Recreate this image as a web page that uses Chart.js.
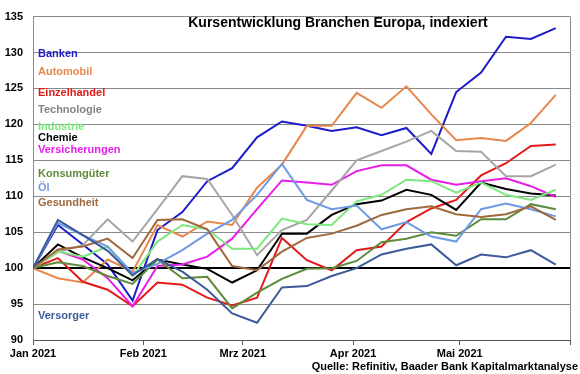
<!DOCTYPE html>
<html>
<head>
<meta charset="utf-8">
<script src="https://cdn.jsdelivr.net/npm/chart.js@4.4.1/dist/chart.umd.min.js"></script>
<style>
	html, body { margin: 0; padding: 0; background: #fff; }
	#wrap { width: 580px; height: 374px; }
</style>
</head>
<body>
<div id="wrap"><canvas id="kurse" width="580" height="374"></canvas></div>
<script>
// weekly closes (Fridays), indexed to 100 on 1 Jan 2021
const dates = [
	"2021-01-01", "2021-01-08", "2021-01-15", "2021-01-22", "2021-01-29",
	"2021-02-05", "2021-02-12", "2021-02-19", "2021-02-26",
	"2021-03-05", "2021-03-12", "2021-03-19", "2021-03-26",
	"2021-04-02", "2021-04-09", "2021-04-16", "2021-04-23", "2021-04-30",
	"2021-05-07", "2021-05-14", "2021-05-21", "2021-05-28"
];

const banken = [100, 106.0, 103.3, 100.5, 95.5, 105.3, 107.8, 112.1, 113.9, 118.2, 120.4, 119.8, 119.1, 119.6, 118.5, 119.5, 115.9, 124.5, 127.2, 132.2, 131.9, 133.4];
const automobil = [100, 98.6, 98.0, 101.2, 99.5, 106.0, 104.4, 106.5, 106.0, 111.2, 114.4, 119.8, 119.8, 124.4, 122.3, 125.3, 121.4, 117.8, 118.1, 117.7, 120.2, 124.1];
const einzelhandel = [100, 101.4, 98.1, 97.0, 94.7, 98.0, 97.7, 95.9, 94.8, 95.9, 104.2, 101.1, 99.7, 102.5, 103.0, 106.4, 108.3, 109.5, 112.9, 114.6, 117.0, 117.2];
const technologie = [100, 102.2, 103.2, 106.8, 103.7, 108.2, 112.8, 112.4, 107.4, 101.8, 105.3, 106.7, 110.8, 115.0, 116.3, 117.6, 119.1, 116.3, 116.2, 112.8, 112.8, 114.4];
const industrie = [100, 102.3, 101.6, 103.0, 98.9, 103.7, 106.0, 105.4, 102.7, 102.7, 106.9, 106.1, 106.0, 109.3, 110.2, 112.3, 112.1, 110.5, 111.9, 110.2, 109.5, 110.9];
const chemie = [100, 103.3, 101.5, 100.0, 98.3, 101.2, 100.5, 99.9, 98.0, 99.7, 104.8, 104.8, 107.4, 108.9, 109.4, 110.9, 110.2, 108.1, 111.9, 111.0, 110.4, 110.1];
const versicherungen = [100, 102.4, 101.2, 98.6, 94.7, 100.3, 100.5, 101.6, 104.1, 108.2, 112.2, 111.9, 111.6, 113.5, 114.3, 114.3, 112.3, 111.6, 112.1, 112.5, 111.4, 109.9];
const konsumgueter = [100, 100.8, 100.3, 98.9, 97.8, 101.2, 98.6, 98.8, 94.4, 96.6, 98.5, 99.9, 100.0, 101.0, 103.6, 104.1, 105.0, 104.5, 106.8, 106.8, 108.9, 108.2];
const oel = [100, 106.3, 104.6, 103.0, 99.3, 100.6, 102.5, 104.8, 106.7, 110.2, 114.5, 109.5, 108.2, 108.7, 105.4, 106.4, 104.4, 103.7, 108.2, 109.0, 108.2, 107.2];
const gesundheit = [100, 102.6, 103.0, 104.1, 101.4, 106.7, 106.8, 105.4, 100.3, 99.7, 102.3, 104.2, 104.8, 105.9, 107.4, 108.2, 108.6, 107.5, 107.1, 107.5, 108.6, 106.7];
const versorger = [100, 106.7, 104.6, 102.4, 99.0, 101.3, 99.5, 97.0, 93.7, 92.4, 97.3, 97.5, 98.9, 100.0, 101.9, 102.7, 103.3, 100.4, 101.9, 101.5, 102.5, 100.5];

// month starts on the time axis and their labels
const monthStarts = ["2021-01-01", "2021-02-01", "2021-03-01", "2021-04-01", "2021-05-01", "2021-06-01"];
const monthLabels = ["Jan 2021", "Feb 2021", "Mrz 2021", "Apr 2021", "Mai 2021", ""];

const yTicks = [90, 95, 100, 105, 110, 115, 120, 125, 130, 135];

const series = [
	{ name: "Versorger", data: versorger, color: "#3d5a99", text: "#3d5a99" },
	{ name: "Gesundheit", data: gesundheit, color: "#a0693c", text: "#a0693c" },
	{ name: "Öl", data: oel, color: "#6f9ae6", text: "#6f9ae6" },
	{ name: "Konsumgüter", data: konsumgueter, color: "#5f8a3c", text: "#5f8a3c" },
	{ name: "Industrie", data: industrie, color: "#7ee87e", text: "#7ee87e" },
	{ name: "Technologie", data: technologie, color: "#a6a6a6", text: "#858585" },
	{ name: "Versicherungen", data: versicherungen, color: "#e81ee8", text: "#e81ee8" },
	{ name: "Chemie", data: chemie, color: "#000000", text: "#000000" },
	{ name: "Einzelhandel", data: einzelhandel, color: "#e31a1a", text: "#e31a1a" },
	{ name: "Automobil", data: automobil, color: "#e8874a", text: "#e8874a" },
	{ name: "Banken", data: banken, color: "#1c1cc8", text: "#1c1cc8" }
];

const day0 = Date.parse("2021-01-01");
function dayOf(s) {
	return Math.round((Date.parse(s) - day0) / 86400000);
}

const FONT = "'Liberation Sans', Arial, sans-serif";

// where the coloured series names sit inside the plot
const labelY = {
	"Banken": 54, "Automobil": 72, "Einzelhandel": 93, "Technologie": 110,
	"Industrie": 127, "Chemie": 138, "Versicherungen": 150,
	"Konsumgüter": 174, "Öl": 188, "Gesundheit": 203, "Versorger": 316
};

const textPlugin = {
	id: "texts",
	afterDatasetsDraw(chart) {
		const ctx = chart.ctx;
		const area = chart.chartArea;
		ctx.save();
		// right border of the plot
		ctx.strokeStyle = "#8a8a8a";
		ctx.lineWidth = 1;
		ctx.beginPath();
		ctx.moveTo(Math.round(area.right) + 0.5, area.top);
		ctx.lineTo(Math.round(area.right) + 0.5, area.bottom);
		ctx.stroke();

		ctx.textBaseline = "middle";
		ctx.fillStyle = "#000";
		ctx.font = "bold 14px " + FONT;
		ctx.textAlign = "center";
		ctx.fillText("Kursentwicklung Branchen Europa, indexiert", 338, 23);

		ctx.font = "bold 11px " + FONT;
		ctx.textAlign = "left";
		series.forEach(s => {
			ctx.fillStyle = s.text;
			ctx.fillText(s.name, 38, labelY[s.name]);
		});

		ctx.fillStyle = "#000";
		ctx.textAlign = "right";
		ctx.fillText("Quelle: Refinitiv, Baader Bank Kapitalmarktanalyse", 578, 367);
		ctx.restore();
	}
};

const kurseChart = new Chart(document.getElementById("kurse").getContext("2d"), {
	type: "line",
	data: {
		datasets: series.map(s => ({
			label: s.name,
			data: s.data.map((v, i) => ({ x: dayOf(dates[i]), y: v })),
			borderColor: s.color,
			backgroundColor: s.color,
			borderWidth: 2,
			pointRadius: 0,
			tension: 0,
			fill: false
		}))
	},
	options: {
		responsive: false,
		animation: false,
		events: [],
		layout: { padding: { top: 10, right: 10, left: 0, bottom: 0 } },
		plugins: {
			legend: { display: false },
			title: { display: false },
			tooltip: { enabled: false }
		},
		scales: {
			x: {
				type: "linear",
				min: dayOf(monthStarts[0]),
				max: dayOf(monthStarts[monthStarts.length - 1]),
				afterBuildTicks: scale => {
					scale.ticks = monthStarts.map(m => ({ value: dayOf(m) }));
				},
				afterFit: scale => {
					scale.height = 34;
				},
				ticks: {
					autoSkip: false,
					maxRotation: 0,
					padding: 2,
					color: "#000",
					font: { family: FONT, size: 11, weight: "bold" },
					callback: (value, index) => monthLabels[index]
				},
				grid: {
					drawOnChartArea: false,
					drawTicks: true,
					tickLength: 5,
					color: "#555"
				},
				border: { display: true, color: "#555", width: 1 }
			},
			y: {
				min: yTicks[0],
				max: yTicks[yTicks.length - 1],
				afterBuildTicks: scale => {
					scale.ticks = yTicks.map(v => ({ value: v }));
				},
				afterFit: scale => {
					scale.width = 33;
				},
				ticks: {
					padding: 10,
					color: "#000",
					font: { family: FONT, size: 11, weight: "bold" }
				},
				grid: {
					drawTicks: false,
					color: c => (c.tick && c.tick.value === 100 ? "#000" : "#8a8a8a"),
					lineWidth: c => (c.tick && c.tick.value === 100 ? 2 : 1)
				},
				border: { display: true, color: "#8a8a8a", width: 1 }
			}
		}
	},
	plugins: [textPlugin]
});
</script>
</body>
</html>
